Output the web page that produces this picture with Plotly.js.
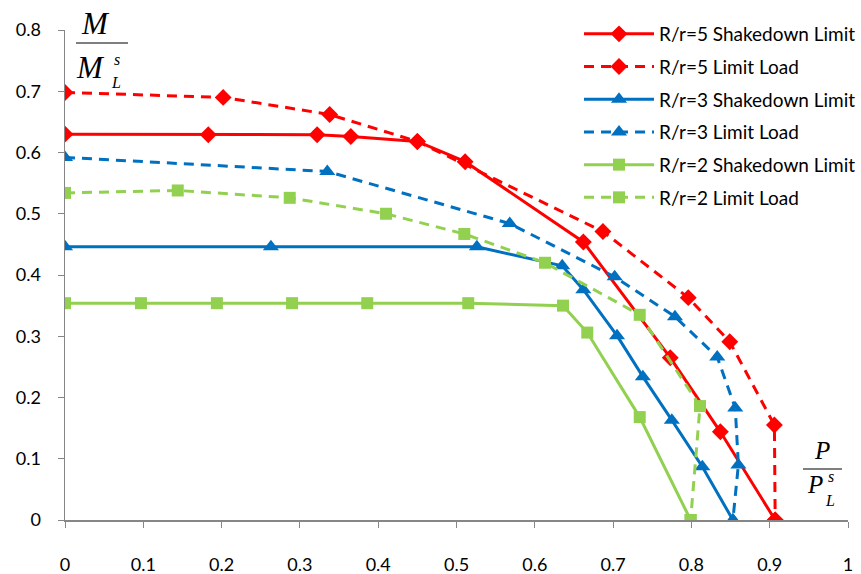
<!DOCTYPE html>
<html>
<head>
<meta charset="utf-8">
<script src="https://cdn.plot.ly/plotly-3.0.1.min.js"></script>
<style>html,body{margin:0;padding:0;background:#fff}#chart{width:861px;height:574px}</style>
</head>
<body>
<div id="chart"></div>
<script>
// R/r=5
const r5ShakeX = [0, 0.183, 0.322, 0.365, 0.450, 0.511, 0.662, 0.773, 0.837, 0.907];
const r5ShakeY = [0.630, 0.629, 0.629, 0.626, 0.618, 0.585, 0.454, 0.265, 0.144, 0];
const r5LimitX = [0, 0.202, 0.338, 0.450, 0.687, 0.796, 0.849, 0.906, 0.907];
const r5LimitY = [0.698, 0.690, 0.662, 0.618, 0.471, 0.363, 0.291, 0.155, 0];
// R/r=3
const r3ShakeX = [0, 0.263, 0.526, 0.635, 0.662, 0.705, 0.738, 0.775, 0.814, 0.853];
const r3ShakeY = [0.446, 0.446, 0.446, 0.415, 0.376, 0.301, 0.234, 0.163, 0.087, 0];
const r3LimitX = [0, 0.335, 0.568, 0.702, 0.779, 0.833, 0.856, 0.860, 0.853];
const r3LimitY = [0.592, 0.569, 0.484, 0.397, 0.332, 0.266, 0.183, 0.090, 0];
// R/r=2
const r2ShakeX = [0, 0.097, 0.194, 0.290, 0.386, 0.515, 0.636, 0.667, 0.734, 0.799];
const r2ShakeY = [0.354, 0.354, 0.354, 0.354, 0.354, 0.354, 0.350, 0.306, 0.168, 0];
const r2LimitX = [0, 0.144, 0.287, 0.410, 0.510, 0.613, 0.734, 0.811, 0.799];
const r2LimitY = [0.534, 0.538, 0.526, 0.500, 0.467, 0.420, 0.335, 0.186, 0];

const names = ["R/r=5 Shakedown Limit", "R/r=5 Limit Load", "R/r=3 Shakedown Limit",
               "R/r=3 Limit Load", "R/r=2 Shakedown Limit", "R/r=2 Limit Load"];
const xTicks = [0, 0.1, 0.2, 0.3, 0.4, 0.5, 0.6, 0.7, 0.8, 0.9, 1];
const yTicks = [0, 0.1, 0.2, 0.3, 0.4, 0.5, 0.6, 0.7, 0.8];

const RED = "#FF0000", BLUE = "#0070C0", GREEN = "#92D050";
const DASH = "10px,7px";

function tr(x, y, name, color, dash, symbol, size, g) {
  return {
    x: x, y: y, name: name, type: "scatter", mode: "lines+markers",
    legendgroup: g,
    line: {color: color, width: 3, dash: dash},
    marker: {color: color, symbol: symbol, size: size}
  };
}

const data = [
  tr(r5ShakeX, r5ShakeY, names[0], RED, "solid", "diamond", 13, "a"),
  tr(r5LimitX, r5LimitY, names[1], RED, DASH, "diamond", 13, "b"),
  tr(r3ShakeX, r3ShakeY, names[2], BLUE, "solid", "triangle-up", 14, "c"),
  tr(r3LimitX, r3LimitY, names[3], BLUE, DASH, "triangle-up", 14, "d"),
  tr(r2ShakeX, r2ShakeY, names[4], GREEN, "solid", "square", 12, "e"),
  tr(r2LimitX, r2LimitY, names[5], GREEN, DASH, "square", 12, "f")
];

const tfont = {family: "Lato, 'Open Sans', sans-serif", size: 18, color: "#000"};
const lfont = {family: "Lato, 'Open Sans', sans-serif", size: 19, color: "#000"};
const mfont = {family: "'Liberation Serif', 'DejaVu Serif', serif", size: 31, color: "#000"};
const sfont = {family: "'Liberation Serif', 'DejaVu Serif', serif", size: 16, color: "#000"};
const pfont = {family: "'Liberation Serif', 'DejaVu Serif', serif", size: 25, color: "#000"};

function ann(x, y, text, font) {
  return {xref: "paper", yref: "paper", x: x, y: y, text: text, showarrow: false,
          font: font, xanchor: "center", yanchor: "middle"};
}
// paper coords helpers
const L = 65, T = 30, W = 783, H = 490;
const px = v => (v - L) / W;
const py = v => 1 - (v - T) / H;

const layout = {
  width: 861, height: 574,
  margin: {l: L, r: 861 - L - W, t: T, b: 574 - T - H, autoexpand: false},
  paper_bgcolor: "#fff", plot_bgcolor: "#fff",
  showlegend: true,
  legend: {
    x: px(579), y: py(15), xanchor: "left", yanchor: "top",
    font: lfont, itemwidth: 70, tracegroupgap: 5, bgcolor: "rgba(0,0,0,0)"
  },
  xaxis: {
    range: [0, 1], tickvals: xTicks, ticktext: xTicks.map(String),
    showgrid: false, zeroline: false, showline: true, linecolor: "#868686", linewidth: 1.5,
    ticks: "outside", ticklen: 6, tickcolor: "#868686", tickfont: tfont,
    ticklabelstandoff: 22, automargin: false
  },
  yaxis: {
    range: [0, 0.8], tickvals: yTicks, ticktext: yTicks.map(String),
    showgrid: false, zeroline: false, showline: true, linecolor: "#868686", linewidth: 1.5,
    ticks: "outside", ticklen: 6, tickcolor: "#868686", tickfont: tfont,
    ticklabelstandoff: 13, automargin: false
  },
  annotations: [
    ann(px(95), py(23), "<i>M</i>", mfont),
    ann(px(90), py(67), "<i>M</i>", mfont),
    ann(px(117), py(60), "<i>s</i>", sfont),
    ann(px(116), py(83), "<i>L</i>", sfont),
    ann(px(822), py(450), "<i>P</i>", pfont),
    ann(px(815), py(484), "<i>P</i>", pfont),
    ann(px(831), py(476), "<i>s</i>", sfont),
    ann(px(830), py(500), "<i>L</i>", sfont)
  ],
  shapes: [
    {type: "line", xref: "paper", yref: "paper", x0: px(76), x1: px(128), y0: py(43), y1: py(43),
     line: {color: "#555", width: 1.5}},
    {type: "line", xref: "paper", yref: "paper", x0: px(803), x1: px(842), y0: py(469), y1: py(469),
     line: {color: "#555", width: 1.5}}
  ]
};

Plotly.newPlot("chart", data, layout, {displayModeBar: false, staticPlot: true});
</script>
</body>
</html>
